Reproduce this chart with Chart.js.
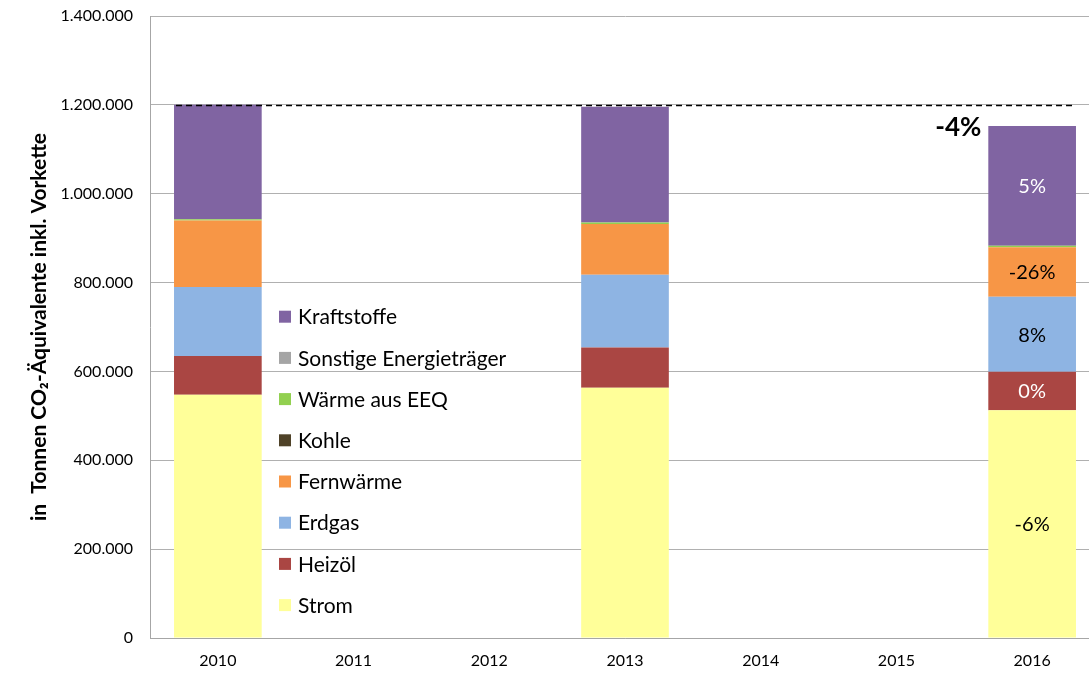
<!DOCTYPE html>
<html>
<head>
<meta charset="utf-8">
<script src="https://cdn.jsdelivr.net/npm/chart.js@4.4.1/dist/chart.umd.min.js"></script>
<style>
html,body{margin:0;padding:0;background:#fff;overflow:hidden;}
#wrap{width:1100px;height:675px;}
</style>
</head>
<body>
<div id="wrap"><canvas id="c" width="1100" height="675"></canvas></div>
<script>
// ---- data ----
const years = ['2010','2011','2012','2013','2014','2015','2016'];
const strom       = [547600, null, null, 563300, null, null, 512900];
const heizoel     = [86900,  null, null, 90700,  null, null, 86400];
const erdgas      = [155300, null, null, 163700, null, null, 168900];
const fernwaerme  = [150000, null, null, 114000, null, null, 111500];
const kohle       = [0,      null, null, 0,      null, null, 0];
const waermeEEQ   = [3000,   null, null, 3500,   null, null, 3400];
const sonstige    = [0,      null, null, 0,      null, null, 0];
const kraftstoffe = [257200, null, null, 260800, null, null, 269500];
const seriesNames = ['Strom','Heizöl','Erdgas','Fernwärme','Kohle','Wärme aus EEQ','Sonstige Energieträger','Kraftstoffe'];
const change2016  = ['-6%','0%','8%','-26%','','','','5%'];
const totalChange2016 = '-4%';
const referenceLevel = 1200000;
const yTicks = [0,200000,400000,600000,800000,1000000,1200000,1400000];

const colors = ['#FFFF99','#AA4643','#8EB4E3','#F79646','#4F4228','#92D050','#A5A5A5','#8064A2'];
const labelColors = ['#000','#fff','#000','#000','#000','#000','#000','#fff'];
const FONT = 'Lato, "Liberation Sans", sans-serif';

function fmt(v){ return String(v).replace(/\B(?=(\d{3})+(?!\d))/g,'.'); }

const allSeries = [strom, heizoel, erdgas, fernwaerme, kohle, waermeEEQ, sonstige, kraftstoffe];
const datasets = allSeries.map((d,i)=>({
  label: seriesNames[i], data: d, backgroundColor: colors[i], borderWidth: 0,
  categoryPercentage: 1.0, barPercentage: 0.646
}));

const overlay = {
  id:'overlay',
  afterDatasetsDraw(chart){
    const ctx = chart.ctx;
    const y = chart.scales.y;
    const n = chart.data.datasets.length;
    const last = years.length-1;
    // dashed reference line
    const b0 = chart.getDatasetMeta(0).data[0];
    const bl = chart.getDatasetMeta(0).data[last];
    const yy = Math.round(y.getPixelForValue(referenceLevel))+0.5;
    ctx.save();
    ctx.strokeStyle = '#000'; ctx.lineWidth = 1.5; ctx.setLineDash([6,4]);
    ctx.beginPath(); ctx.moveTo(b0.x - b0.width/2 + 2, yy); ctx.lineTo(bl.x + bl.width/2 - 3, yy); ctx.stroke();
    ctx.restore();
    // segment labels 2016
    ctx.save();
    ctx.font = '20px ' + FONT; ctx.textAlign='center'; ctx.textBaseline='middle';
    for(let i=0;i<n;i++){
      const t = change2016[i]; if(!t) continue;
      const el = chart.getDatasetMeta(i).data[last];
      ctx.fillStyle = labelColors[i];
      ctx.fillText(t, el.x, (el.y+el.base)/2 + 1);
    }
    // total change
    const top = chart.getDatasetMeta(n-1).data[last];
    ctx.font = 'bold 26px ' + FONT; ctx.textAlign='right'; ctx.fillStyle='#000';
    ctx.fillText(totalChange2016, top.x - top.width/2 - 7, top.y + 2);
    ctx.restore();
    // legend
    ctx.save();
    ctx.font = '21px ' + FONT; ctx.textAlign='left'; ctx.textBaseline='middle';
    for(let k=0;k<n;k++){
      const i = n-1-k;
      const cy = 316.7 + k*41.2;
      ctx.fillStyle = colors[i];
      ctx.fillRect(279, cy-6, 12, 12);
      ctx.fillStyle = '#000';
      ctx.fillText(chart.data.datasets[i].label, 298, cy+1);
    }
    ctx.restore();
  }
};

new Chart(document.getElementById('c'), {
  type:'bar',
  data:{ labels: years, datasets },
  options:{
    responsive:false, animation:false,
    layout:{ padding:{ top:16, right:0, left:0, bottom:0 } },
    plugins:{ legend:{display:false}, tooltip:{enabled:false} },
    scales:{
      x:{
        stacked:true,
        grid:{ display:false, drawTicks:false },
        border:{ display:true, color:'#a6a6a6', width:1 },
        ticks:{ font:{ family:FONT, size:16 }, color:'#000', padding:13, maxRotation:0 },
        afterFit(s){ s.height = 37; s.paddingLeft = 0; s.paddingRight = 0; }
      },
      y:{
        stacked:true, min:0, max:1400000,
        afterBuildTicks(s){ s.ticks = yTicks.map(v=>({value:v})); },
        grid:{ color:'#b0b0b0', lineWidth:1, drawTicks:false },
        border:{ display:true, color:'#a6a6a6', width:1 },
        ticks:{ font:{ family:FONT, size:16 }, color:'#000', padding:17, callback:(v)=>fmt(v) },
        title:{ display:true, text:'in  Tonnen CO₂-Äquivalente inkl. Vorkette', font:{ family:FONT, size:21, weight:'bold' }, color:'#000', padding:{top:27,bottom:0} },
        afterFit(s){ s.width = 150; s.paddingTop = 0; s.paddingBottom = 0; }
      }
    }
  },
  plugins:[overlay]
});
</script>
</body>
</html>
